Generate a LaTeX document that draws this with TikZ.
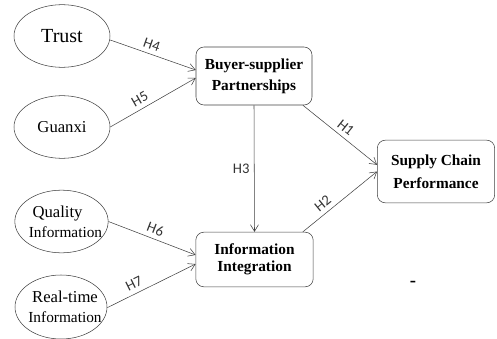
\documentclass[tikz,border=0pt]{standalone}
\usepackage{fontspec}
\setmainfont{Liberation Serif}
\newfontfamily\hypfont{Carlito}
\usetikzlibrary{shapes.geometric,arrows.meta}

\begin{document}
\begin{tikzpicture}[x=0.75pt, y=-0.75pt,
	factor/.style={ellipse, draw=black!75, inner sep=0pt, minimum width=72pt, minimum height=47pt, align=center},
	construct/.style={rectangle, rounded corners=6pt, draw=black!75, inner sep=0pt, align=center, font=\bfseries\fontsize{11.5}{16}\selectfont},
	link/.style={draw=black!75, -{Straight Barb[length=5pt,width=6pt]}},
	hyp/.style={font=\hypfont\fontsize{11}{13}\selectfont, text=black!80}]
				\useasboundingbox (0,0) rectangle (497,339);
				
				%antecedents
				\node[factor, font=\fontsize{15}{18}\selectfont] (trust) at (62,36) {Trust};
				\node[factor, font=\fontsize{12.5}{15}\selectfont] (guanxi) at (62,127) {Guanxi};
				\node[factor, inner xsep=-7pt, minimum width=70pt, font=\fontsize{12.5}{15}\selectfont] (quality) at (61.5,221.5) {\hspace*{-6pt}Quality\\\hspace*{6pt}{\fontsize{11.5}{15}\selectfont Information}};
				\node[factor, inner xsep=-7pt, minimum width=69pt, minimum height=48pt, font=\fontsize{12.5}{15}\selectfont] (realtime) at (61,307) {\hspace*{6pt}Real-time\\\hspace*{6pt}{\fontsize{11.5}{15}\selectfont Information}};
				
				%constructs
				\node[construct, minimum width=87pt, minimum height=43.5pt] (bsp) at (254,76) {Buyer-supplier\\Partnerships};
				\node[construct, minimum width=88pt, minimum height=41pt, font=\bfseries\fontsize{11.5}{13}\selectfont] (ii) at (254.5,259.5) {Information\\Integration};
				\node[construct, minimum width=88pt, minimum height=47pt, font=\bfseries\fontsize{11.5}{17.5}\selectfont] (scp) at (436,171.5) {Supply Chain\\Performance};
				\node[font=\bfseries\fontsize{14}{14}\selectfont] (dash) at (413,284) {-};
				
				%hypotheses
				\draw[link] ([yshift=-3pt]trust.east) -- ([yshift=4.5pt]bsp.west) node[hyp, sloped, above, pos=0.45]{H4};
				\draw[link] (guanxi.east) -- ([yshift=-1.5pt]bsp.west) node[hyp, sloped, above, pos=0.4]{H5};
				\draw[link] ([xshift=-7pt]bsp.south east) -- ([yshift=5pt]scp.west) node[hyp, sloped, above, pos=0.5]{H1};
				\draw[link] ([xshift=-8pt]ii.north east) -- (scp.west) node[hyp, sloped, above, pos=0.35]{H2};
				\draw[link] (bsp.south) -- (ii.north) node[hyp, left, midway]{H3};
				\draw[link] (quality.east) -- ([yshift=3.4pt]ii.west) node[hyp, sloped, above, pos=0.5]{H6};
				\draw[link] ([yshift=-0.5pt]realtime.east) -- ([yshift=-3.4pt]ii.west) node[hyp, sloped, above, pos=0.35]{H7};
			\end{tikzpicture}
\end{document}
